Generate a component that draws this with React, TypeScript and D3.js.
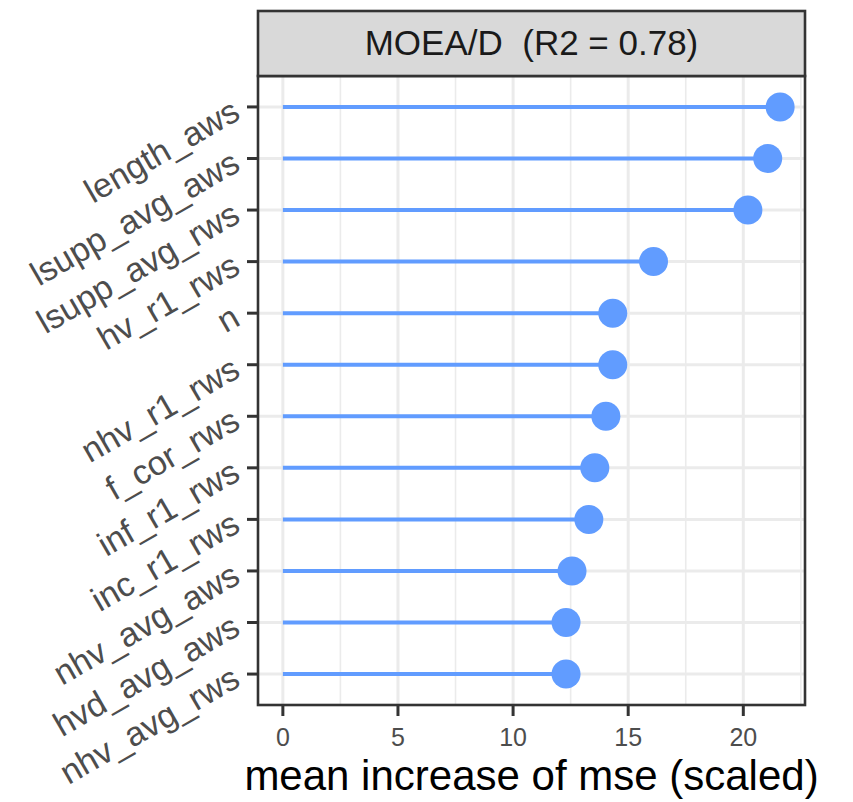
import * as d3 from "d3";
import { useEffect, useRef } from "react";

const features = [
  "length_aws",
  "lsupp_avg_aws",
  "lsupp_avg_rws",
  "hv_r1_rws",
  "n",
  "nhv_r1_rws",
  "f_cor_rws",
  "inf_r1_rws",
  "inc_r1_rws",
  "nhv_avg_aws",
  "hvd_avg_aws",
  "nhv_avg_rws",
];
const importance = [21.6, 21.06, 20.2, 16.1, 14.33, 14.33, 14.03, 13.55, 13.29, 12.56, 12.3, 12.3];
const xTicks = [0, 5, 10, 15, 20];
const xMinor = [2.5, 7.5, 12.5, 17.5, 22.5];
const stripTitle = "MOEA/D  (R2 = 0.78)";
const xTitle = "mean increase of mse (scaled)";

const width = 853;
const height = 802;
const font = "'Liberation Sans', Arial, Helvetica, sans-serif";

export default function App() {
  const svgRef = useRef<SVGSVGElement>(null);

  useEffect(() => {
    if (!svgRef.current) return;
    const svg = d3.select(svgRef.current);
    svg.selectAll("*").remove();

    const panel = { left: 258, right: 805, top: 76, bottom: 705 };
    const strip = { top: 11, bottom: 76 };

    // ggplot-like expansion: 5% continuous, 0.6 discrete
    const maxV = d3.max(importance) as number;
    const pad = maxV * 0.05;
    const x = d3.scaleLinear().domain([-pad, maxV + pad]).range([panel.left, panel.right]);
    const y = d3
      .scalePoint<string>()
      .domain(features)
      .range([panel.top, panel.bottom])
      .padding(0.6);

    svg
      .append("rect")
      .attr("x", panel.left)
      .attr("y", panel.top)
      .attr("width", panel.right - panel.left)
      .attr("height", panel.bottom - panel.top)
      .attr("fill", "#fff");

    // grid
    const grid = svg.append("g");
    grid
      .selectAll("line.minor")
      .data(xMinor.filter((v) => x(v) < panel.right))
      .join("line")
      .attr("x1", (d) => x(d))
      .attr("x2", (d) => x(d))
      .attr("y1", panel.top)
      .attr("y2", panel.bottom)
      .attr("stroke", "#ebebeb")
      .attr("stroke-width", 1.6);
    grid
      .selectAll("line.major")
      .data(xTicks)
      .join("line")
      .attr("x1", (d) => x(d))
      .attr("x2", (d) => x(d))
      .attr("y1", panel.top)
      .attr("y2", panel.bottom)
      .attr("stroke", "#ebebeb")
      .attr("stroke-width", 3);
    grid
      .selectAll("line.h")
      .data(features)
      .join("line")
      .attr("x1", panel.left)
      .attr("x2", panel.right)
      .attr("y1", (d) => y(d) as number)
      .attr("y2", (d) => y(d) as number)
      .attr("stroke", "#ebebeb")
      .attr("stroke-width", 3);

    // lollipops
    const marks = svg.append("g");
    marks
      .selectAll("line")
      .data(features)
      .join("line")
      .attr("x1", x(0))
      .attr("x2", (_, i) => x(importance[i]))
      .attr("y1", (d) => y(d) as number)
      .attr("y2", (d) => y(d) as number)
      .attr("stroke", "#619CFF")
      .attr("stroke-width", 4);
    marks
      .selectAll("circle")
      .data(features)
      .join("circle")
      .attr("cx", (_, i) => x(importance[i]))
      .attr("cy", (d) => y(d) as number)
      .attr("r", 14.5)
      .attr("fill", "#619CFF");

    // panel border
    svg
      .append("rect")
      .attr("x", panel.left)
      .attr("y", panel.top)
      .attr("width", panel.right - panel.left)
      .attr("height", panel.bottom - panel.top)
      .attr("fill", "none")
      .attr("stroke", "#333333")
      .attr("stroke-width", 2.6);

    // strip
    svg
      .append("rect")
      .attr("x", panel.left)
      .attr("y", strip.top)
      .attr("width", panel.right - panel.left)
      .attr("height", strip.bottom - strip.top)
      .attr("fill", "#d9d9d9")
      .attr("stroke", "#333333")
      .attr("stroke-width", 2.6);
    svg
      .append("text")
      .attr("x", (panel.left + panel.right) / 2)
      .attr("y", 55)
      .attr("text-anchor", "middle")
      .style("font-family", font)
      .style("font-size", "35px")
      .style("white-space", "pre")
      .style("fill", "#1a1a1a")
      .text(stripTitle);

    // y axis ticks + rotated labels
    const ya = svg.append("g");
    ya.selectAll("line")
      .data(features)
      .join("line")
      .attr("x1", panel.left - 11)
      .attr("x2", panel.left)
      .attr("y1", (d) => y(d) as number)
      .attr("y2", (d) => y(d) as number)
      .attr("stroke", "#333333")
      .attr("stroke-width", 3);
    ya.selectAll("text")
      .data(features)
      .join("text")
      .attr("transform", (d) => `translate(${panel.left - 16},${(y(d) as number) + 11}) rotate(-30)`)
      .attr("text-anchor", "end")
      .style("font-family", font)
      .style("font-size", "34px")
      .style("fill", "#4d4d4d")
      .text((d) => d);

    // x axis
    const xa = svg.append("g");
    xa.selectAll("line")
      .data(xTicks)
      .join("line")
      .attr("x1", (d) => x(d))
      .attr("x2", (d) => x(d))
      .attr("y1", panel.bottom)
      .attr("y2", panel.bottom + 11)
      .attr("stroke", "#333333")
      .attr("stroke-width", 3);
    xa.selectAll("text")
      .data(xTicks)
      .join("text")
      .attr("x", (d) => x(d))
      .attr("y", panel.bottom + 41)
      .attr("text-anchor", "middle")
      .style("font-family", font)
      .style("font-size", "25px")
      .style("fill", "#4d4d4d")
      .text((d) => d);

    svg
      .append("text")
      .attr("x", (panel.left + panel.right) / 2)
      .attr("y", 790)
      .attr("text-anchor", "middle")
      .style("font-family", font)
      .style("font-size", "42px")
      .style("fill", "#000")
      .text(xTitle);
  }, []);

  return (
    <svg
      ref={svgRef}
      width={width}
      height={height}
      style={{ position: "absolute", left: 0, top: 0, background: "#fff" }}
    />
  );
}
